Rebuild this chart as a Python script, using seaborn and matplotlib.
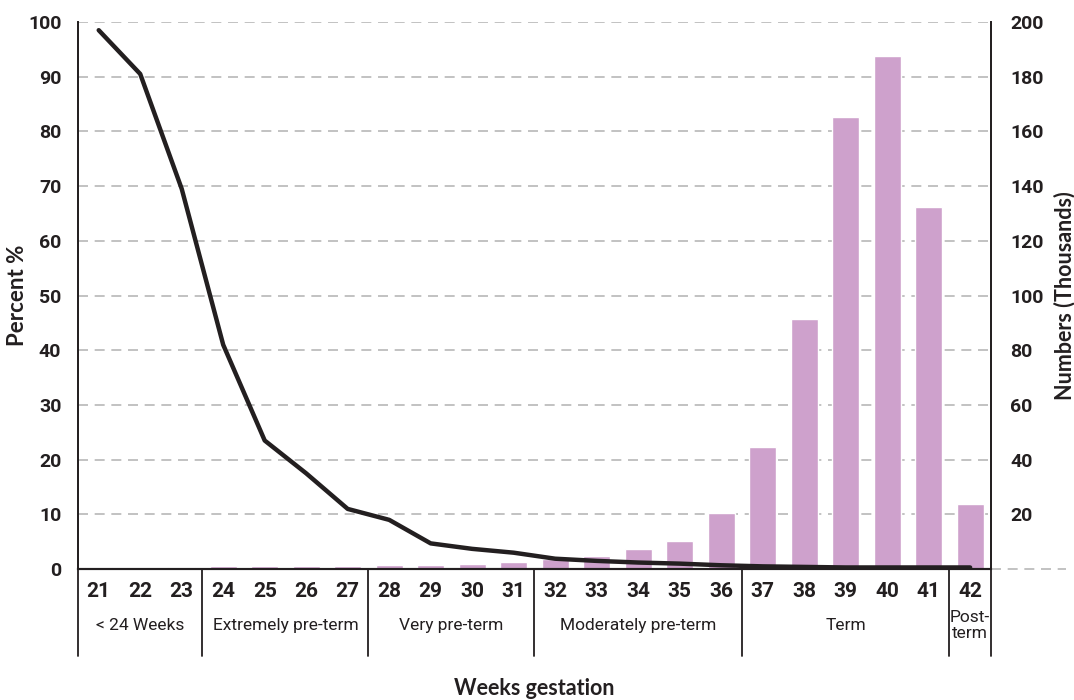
import numpy as np
import pandas as pd
import matplotlib.pyplot as plt
import matplotlib.transforms as mtransforms
import seaborn as sns

# data
weeks = list(range(21, 43))
numbers_k = [0.6, 0, 0.6, 1.1, 1.1, 1.1, 1.1, 1.5, 1.5, 1.8, 2.6,
             3.8, 4.8, 7.3, 10.2, 20.5, 44.6, 91.5, 165.3, 187.6, 132.4, 23.8]
percent = [98.5, 90.5, 69.5, 41, 23.5, 17.5, 11, 9, 4.7, 3.7, 3.0,
           1.9, 1.5, 1.2, 1.0, 0.7, 0.5, 0.4, 0.3, 0.3, 0.3, 0.3]
groups = ["< 24 Weeks", "Extremely pre-term", "Very pre-term",
          "Moderately pre-term", "Term", "Post-\nterm"]
group_weeks = [(21, 23), (24, 27), (28, 31), (32, 36), (37, 41), (42, 42)]

df = pd.DataFrame({"week": weeks, "numbers": numbers_k, "percent": percent})

sns.set_style("white")
plt.rcParams["font.family"] = ["Roboto", "DejaVu Sans"]
title_font = ["Lato", "DejaVu Sans"]
txt = "#231f20"
bar_col = "#cea1cc"
grid_col = "#b8b8b8"

fig = plt.figure(figsize=(10.74, 7), dpi=100)
ax1 = fig.add_axes([0.0726, 0.187, 0.85, 0.7816])
ax2 = ax1.twinx()

# bars on the right-hand axis
sns.barplot(data=df, x="week", y="numbers", native_scale=True, width=0.65,
            color=bar_col, saturation=1, ax=ax2, zorder=2)
ax2.set_ylim(0, 200)
ax2.set_yticks(range(20, 201, 20))
ax2.yaxis.grid(True, linestyle=(0, (6, 4)), color=grid_col, lw=1.2, zorder=0)
ax2.set_axisbelow(True)
ax2.tick_params(axis="y", length=0, pad=14, labelsize=14, colors=txt)
for t in ax2.get_yticklabels():
    t.set_fontweight("bold")
ax2.set_ylabel("Numbers (Thousands)", family=title_font,
               fontweight="bold", fontsize=15.5, color=txt, va="center", ha="center")
ax2.yaxis.set_label_coords(1.081, 0.5)

# line on the left-hand axis, drawn above the bars
ax1.set_zorder(ax2.get_zorder() + 1)
ax1.patch.set_visible(False)
sns.lineplot(data=df, x="week", y="percent", color=txt, lw=3.2,
             ax=ax1, solid_capstyle="round", solid_joinstyle="round")
ax1.set_ylim(0, 100)
ax1.set_yticks(range(0, 101, 10))
ax1.set_xlim(20.5, 42.5)
ax1.tick_params(axis="y", length=0, pad=12, labelsize=14, colors=txt)
for t in ax1.get_yticklabels():
    t.set_fontweight("bold")
ax1.set_ylabel("Percent %", family=title_font,
               fontweight="bold", fontsize=16, color=txt, va="center", ha="center")
ax1.yaxis.set_label_coords(-0.0657, 0.5)

# x axis: week numbers, small ticks between weeks
ax1.set_xticks(weeks)
ax1.set_xticklabels([str(w) for w in weeks], fontweight="bold", fontsize=15, color=txt)
ax1.tick_params(axis="x", which="major", length=0, pad=9)
bounds = [w + 0.5 for w in weeks[:-1]]
group_ends = [g[1] + 0.5 for g in group_weeks[:-1]]
ax1.set_xticks([b for b in bounds if b not in group_ends], minor=True)
ax1.tick_params(axis="x", which="minor", length=6, width=1.2, color=txt, direction="out")
ax1.set_xlabel("Weeks gestation", family=title_font,
               fontweight="bold", fontsize=15.5, color=txt, va="center")
ax1.xaxis.set_label_coords(0.5, -0.2175)

for ax in (ax1, ax2):
    ax.spines["top"].set_visible(False)
    ax.spines["bottom"].set_color(txt)
    ax.spines["bottom"].set_linewidth(1.5)
    for s in ("left", "right"):
        ax.spines[s].set_color(txt)
        ax.spines[s].set_linewidth(1.3)
ax2.set_xlim(20.5, 42.5)

# group separators and labels below the axis
trans = mtransforms.blended_transform_factory(ax1.transData, ax1.transAxes)
low = -0.159
for x in [20.5] + group_ends + [42.5]:
    ax1.plot([x, x], [low, 0], color=txt, lw=1.3, transform=trans, clip_on=False)
for name, (a, b) in zip(groups, group_weeks):
    ax1.text((a + b) / 2, -0.103, name, transform=trans, ha="center", va="center",
             fontsize=12.5, color=txt, linespacing=1.05)

# dashed zero line running past the right axis
ax1.plot([42.5, 44.3], [0, 0], color=grid_col, lw=1.2, linestyle=(0, (6, 4)),
         clip_on=False)

fig.savefig("out.png", dpi=100)
